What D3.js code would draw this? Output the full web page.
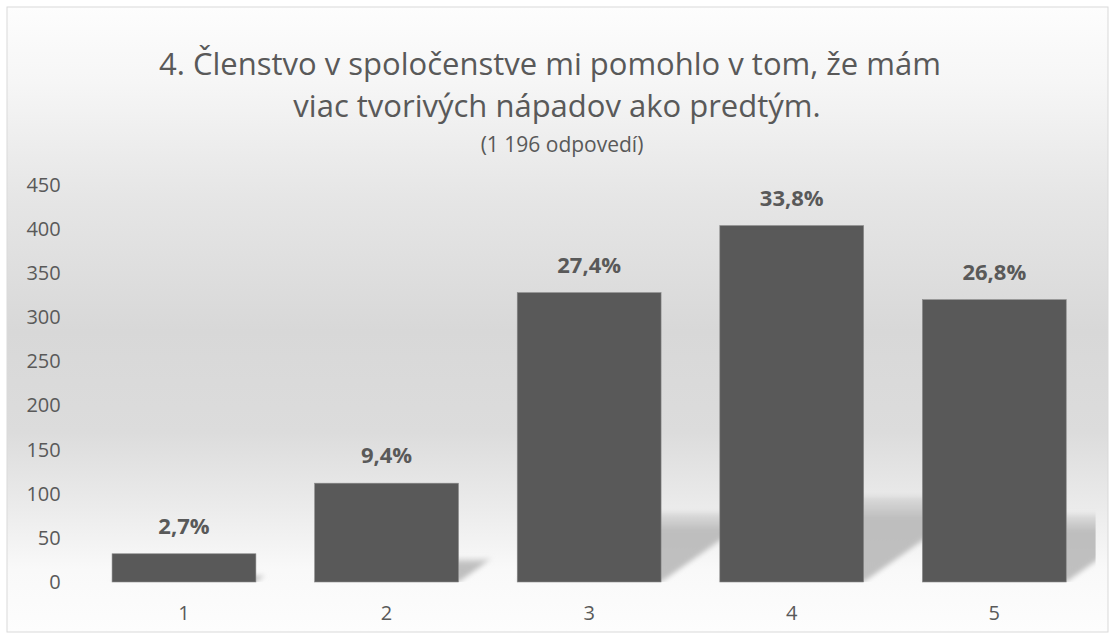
<!doctype html>
<html lang="sk">
<head>
<meta charset="utf-8">
<title>Členstvo v spoločenstve</title>
<style>
  body { margin: 0; background: #fff; font-family: 'Open Sans', sans-serif; }
  svg text { fill: #595959; }
</style>
</head>
<body>
<svg width="1115" height="639"></svg>
<script src="https://d3js.org/d3.v7.min.js"></script>
<script>
// data
var categories = ["1", "2", "3", "4", "5"];
var counts = [32, 112, 328, 404, 320];
var percentLabels = ["2,7%", "9,4%", "27,4%", "33,8%", "26,8%"];
var yTicks = [0, 50, 100, 150, 200, 250, 300, 350, 400, 450];
var titleLines = ["4. Členstvo v spoločenstve mi pomohlo v tom, že mám", "viac tvorivých nápadov ako predtým."];
var subtitle = "(1 196 odpovedí)";

var data = categories.map(function(c, i) { return {cat: c, value: counts[i], label: percentLabels[i]}; });

var svg = d3.select("svg"),
    frame = {x: 7, y: 7, w: 1101, h: 625},
    plot = {left: 82.7, right: 1095.6, top: 185, bottom: 582};

var defs = svg.append("defs");

// background gradient like the office chart style
var bg = defs.append("linearGradient")
    .attr("id", "bg").attr("x1", 0).attr("y1", 0).attr("x2", 0).attr("y2", 1);
[[0, "#fdfdfd"], [0.12, "#f6f6f6"], [0.3, "#e6e6e6"], [0.52, "#d8d8d8"], [0.68, "#dcdcdc"],
 [0.8, "#ebebeb"], [0.9, "#f9f9f9"], [1, "#fdfdfd"]].forEach(function(s) {
  bg.append("stop").attr("offset", s[0]).attr("stop-color", s[1]);
});

var blur = defs.append("filter").attr("id", "blur")
    .attr("x", "-20%").attr("y", "-20%").attr("width", "140%").attr("height", "140%");
blur.append("feGaussianBlur").attr("stdDeviation", 2.5);

var shadowGrad = defs.append("linearGradient")
    .attr("id", "shade").attr("x1", 0).attr("y1", 0).attr("x2", 0).attr("y2", 1);
shadowGrad.append("stop").attr("offset", 0).attr("stop-color", "#c4c4c4").attr("stop-opacity", 0.4);
shadowGrad.append("stop").attr("offset", 0.25).attr("stop-color", "#bebebe").attr("stop-opacity", 1);
shadowGrad.append("stop").attr("offset", 1).attr("stop-color", "#c0c0c0").attr("stop-opacity", 1);

defs.append("clipPath").attr("id", "plotclip")
  .append("rect")
    .attr("x", plot.left).attr("y", plot.top)
    .attr("width", plot.right - plot.left).attr("height", plot.bottom - plot.top);

svg.append("rect")
    .attr("x", frame.x).attr("y", frame.y)
    .attr("width", frame.w).attr("height", frame.h)
    .attr("fill", "url(#bg)")
    .attr("stroke", "#d9d9d9").attr("stroke-width", 1);

// scales
var x = d3.scaleBand()
    .domain(categories)
    .range([plot.left, plot.right])
    .paddingInner(0.29)
    .paddingOuter(0.145);

var y = d3.scaleLinear()
    .domain([0, 450])
    .range([plot.bottom, plot.top]);

// title
var title = svg.append("text")
    .attr("text-anchor", "middle")
    .attr("font-size", "31px");
title.selectAll("tspan")
  .data(titleLines)
  .enter().append("tspan")
    .attr("x", function(d, i) { return i ? 557 : 550; })
    .attr("y", function(d, i) { return 75 + i * 42; })
    .text(function(d) { return d; });

svg.append("text")
    .attr("x", 562).attr("y", 152)
    .attr("text-anchor", "middle")
    .attr("font-size", "21px")
    .text(subtitle);

// y axis, labels only
var yAxis = svg.append("g")
    .attr("transform", "translate(" + plot.left + ",0)")
    .call(d3.axisLeft(y).tickValues(yTicks).tickSize(0).tickPadding(22));
yAxis.select(".domain").remove();
yAxis.selectAll("text")
    .attr("font-family", "'Open Sans', sans-serif")
    .attr("font-size", "20px")
    .attr("fill", "#595959");

// x axis, labels only
var xAxis = svg.append("g")
    .attr("transform", "translate(0," + plot.bottom + ")")
    .call(d3.axisBottom(x).tickSize(0).tickPadding(24));
xAxis.select(".domain").remove();
xAxis.selectAll("text")
    .attr("font-family", "'Open Sans', sans-serif")
    .attr("font-size", "20px")
    .attr("fill", "#595959");

// perspective shadows behind the bars (top corners pushed right and up)
svg.append("g")
    .attr("clip-path", "url(#plotclip)")
  .append("g")
    .attr("filter", "url(#blur)")
  .selectAll("polygon")
  .data(data)
  .enter().append("polygon")
    .attr("fill", "url(#shade)")
    .attr("points", function(d) {
      var x0 = x(d.cat), x1 = x0 + x.bandwidth(),
          H = plot.bottom - y(d.value), b = plot.bottom,
          dx = H * 0.34, dy = H * 0.24;
      return [[x0, b], [x1, b], [x1 + dx, b - dy], [x0 + dx, b - dy]].join(" ");
    });

// bars
svg.append("g")
  .selectAll("rect")
  .data(data)
  .enter().append("rect")
    .attr("x", function(d) { return x(d.cat); })
    .attr("y", function(d) { return y(d.value); })
    .attr("width", x.bandwidth())
    .attr("height", function(d) { return y(0) - y(d.value); })
    .attr("fill", "#595959")
    .attr("stroke", "#8a8a8a")
    .attr("stroke-width", 0.6);

// percent labels
svg.append("g")
  .selectAll("text")
  .data(data)
  .enter().append("text")
    .attr("x", function(d) { return x(d.cat) + x.bandwidth() / 2; })
    .attr("y", function(d) { return y(d.value) - 20; })
    .attr("text-anchor", "middle")
    .attr("font-size", "22px")
    .attr("font-weight", "bold")
    .text(function(d) { return d.label; });
</script>
</body>
</html>
